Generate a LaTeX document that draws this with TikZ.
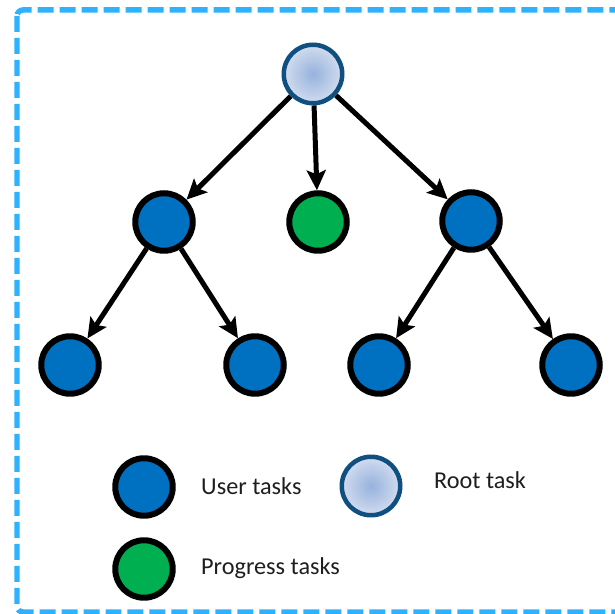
\documentclass[tikz,border=0pt]{standalone}
\usepackage{fontspec}
\setmainfont{Carlito}
\usetikzlibrary{arrows.meta}
\definecolor{taskblue}{RGB}{0,112,192}
\definecolor{taskgreen}{RGB}{0,176,80}
\definecolor{rootedge}{RGB}{16,80,128}
\definecolor{rootin}{RGB}{150,178,222}
\definecolor{rootout}{RGB}{210,220,238}
\definecolor{framecyan}{RGB}{46,178,255}
\definecolor{labelgray}{RGB}{30,30,30}

\begin{document}
\begin{tikzpicture}[x=0.02cm,y=-0.02cm,
        user/.style={circle,draw=black,line width=0.12cm,fill=taskblue,minimum size=1.15cm,inner sep=0pt},
        progress/.style={user,fill=taskgreen},
        root/.style={circle,draw=rootedge,line width=0.09cm,inner color=rootin,outer color=rootout,minimum size=1.17cm,inner sep=0pt},
        link/.style={line width=0.1cm,-{Stealth[length=0.4cm,width=0.38cm,inset=0.08cm]}},
        legend/.style={anchor=west,text=labelgray,font=\fontsize{13.8}{16}\selectfont}
      ]
        \useasboundingbox (0,0) rectangle (615,614);
        \draw[framecyan,line width=0.11cm,dash pattern=on 0.32cm off 0.12cm,rounded corners=0.12cm] (17,10) rectangle (650,612);

        % tree
        \node[root] (r) at (313,74) {};
        \node[user] (a) at (164,222) {};
        \node[progress] (p) at (318,222) {};
        \node[user] (b) at (471,221) {};
        \node[user] (a1) at (70,365) {};
        \node[user] (a2) at (255,365) {};
        \node[user] (b1) at (379,365) {};
        \node[user] (b2) at (571,365) {};

        \foreach \s/\t in {r/a,r/p,r/b,a/a1,a/a2,b/b1,b/b2}{
          \draw[link] (\s) -- (\t);
        }

        % legend
        \node[user] (ku) at (144,487) {};
        \node[progress] (kp) at (144,569) {};
        \node[root] (kr) at (371,486) {};
        \node[legend] (tu) at (195,486) {User tasks};
        \node[legend] (tp) at (195,568) {Progress tasks};
        \node[legend] (tr) at (428,480) {Root task};
      \end{tikzpicture}
\end{document}
